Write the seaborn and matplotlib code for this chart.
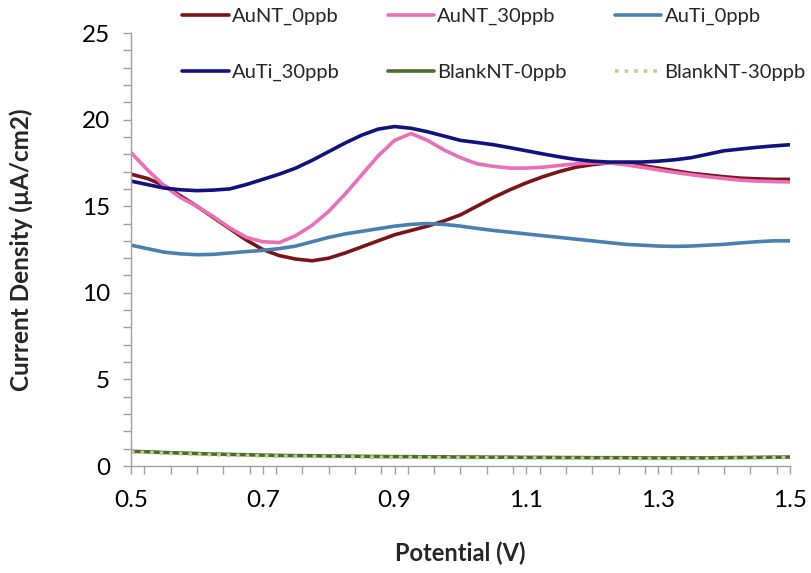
import numpy as np
import pandas as pd
import matplotlib
matplotlib.use("Agg")
import matplotlib.pyplot as plt
import seaborn as sns
from matplotlib.ticker import MultipleLocator

potential = [0.500, 0.525, 0.550, 0.575, 0.600, 0.625, 0.650, 0.675, 0.700, 0.725,
             0.750, 0.775, 0.800, 0.825, 0.850, 0.875, 0.900, 0.925, 0.950, 0.975,
             1.000, 1.025, 1.050, 1.075, 1.100, 1.125, 1.150, 1.175, 1.200, 1.225,
             1.250, 1.275, 1.300, 1.325, 1.350, 1.375, 1.400, 1.425, 1.450, 1.475,
             1.500]

aunt_0 = [16.85, 16.6, 16.2, 15.6, 15.0, 14.35, 13.7, 13.05, 12.5, 12.15,
          11.95, 11.85, 12.0, 12.3, 12.65, 13.0, 13.35, 13.6, 13.85, 14.15,
          14.5, 15.0, 15.5, 15.95, 16.35, 16.7, 17.0, 17.25, 17.4, 17.5,
          17.45, 17.35, 17.2, 17.05, 16.9, 16.8, 16.7, 16.62, 16.58, 16.55,
          16.55]
aunt_30 = [18.1, 17.1, 16.2, 15.5, 15.0, 14.4, 13.75, 13.2, 12.95, 12.9,
           13.3, 13.9, 14.7, 15.7, 16.8, 17.9, 18.8, 19.2, 18.8, 18.25,
           17.8, 17.45, 17.3, 17.2, 17.2, 17.25, 17.35, 17.45, 17.5, 17.5,
           17.4, 17.25, 17.1, 16.95, 16.82, 16.7, 16.6, 16.5, 16.45, 16.42,
           16.4]
auti_0 = [12.75, 12.55, 12.35, 12.25, 12.2, 12.22, 12.3, 12.38, 12.45, 12.55,
          12.7, 12.95, 13.2, 13.4, 13.55, 13.7, 13.85, 13.95, 14.0, 13.95,
          13.85, 13.72, 13.6, 13.5, 13.4, 13.3, 13.2, 13.1, 13.0, 12.9,
          12.8, 12.75, 12.7, 12.68, 12.7, 12.75, 12.8, 12.88, 12.95, 13.0,
          13.0]
auti_30 = [16.45, 16.25, 16.05, 15.95, 15.9, 15.93, 16.0, 16.25, 16.55, 16.85,
           17.2, 17.65, 18.15, 18.65, 19.1, 19.45, 19.6, 19.5, 19.3, 19.05,
           18.8, 18.68, 18.55, 18.38, 18.2, 18.02, 17.85, 17.7, 17.6, 17.55,
           17.55, 17.55, 17.6, 17.68, 17.8, 18.0, 18.2, 18.3, 18.4, 18.48,
           18.55]
blank_0 = [0.85, 0.82, 0.78, 0.75, 0.72, 0.69, 0.67, 0.65, 0.63, 0.61,
           0.60, 0.59, 0.58, 0.57, 0.56, 0.55, 0.54, 0.54, 0.53, 0.53,
           0.52, 0.52, 0.51, 0.51, 0.50, 0.50, 0.49, 0.49, 0.48, 0.48,
           0.48, 0.47, 0.47, 0.47, 0.47, 0.47, 0.48, 0.49, 0.50, 0.51,
           0.52]
blank_30 = [0.81, 0.78, 0.74, 0.71, 0.68, 0.65, 0.63, 0.61, 0.59, 0.57,
            0.56, 0.55, 0.54, 0.53, 0.52, 0.51, 0.50, 0.50, 0.49, 0.49,
            0.48, 0.48, 0.47, 0.47, 0.46, 0.46, 0.45, 0.45, 0.44, 0.44,
            0.44, 0.43, 0.43, 0.43, 0.43, 0.43, 0.44, 0.45, 0.46, 0.47,
            0.48]

series_names = ["AuNT_0ppb", "AuNT_30ppb", "AuTi_0ppb",
                "AuTi_30ppb", "BlankNT-0ppb", "BlankNT-30ppb"]
series_values = [aunt_0, aunt_30, auti_0, auti_30, blank_0, blank_30]
colors = ["#7a1418", "#ea6fb6", "#4a80b0", "#12127e", "#4f6a2c", "#b5d38e"]
styles = ["-", "-", "-", "-", "-", ":"]

sns.set_theme(style="white")
plt.rcParams["font.family"] = ["Lato", "DejaVu Sans"]

fig = plt.figure(figsize=(8.11, 5.73), dpi=100)
ax = fig.add_axes([0.1615, 0.1867, 0.974 - 0.1615, 0.9424 - 0.1867])

handles = []
for name, vals, col, ls in zip(series_names, series_values, colors, styles):
    df = pd.DataFrame({"Potential": potential, "Current": vals})
    sns.lineplot(data=df, x="Potential", y="Current", ax=ax, color=col,
                 linewidth=2.6, linestyle=ls, label=name, legend=False)
    handles.append(ax.lines[-1])

ax.set_xlim(0.5, 1.5)
ax.set_ylim(0, 25)
ax.set_xticks([0.5, 0.7, 0.9, 1.1, 1.3, 1.5])
ax.set_xticklabels(["0.5", "0.7", "0.9", "1.1", "1.3", "1.5"])
ax.xaxis.set_minor_locator(MultipleLocator(0.04))
ax.set_yticks([0, 5, 10, 15, 20, 25])
ax.yaxis.set_minor_locator(MultipleLocator(1))

for s in ["top", "right"]:
    ax.spines[s].set_visible(False)
for s in ["left", "bottom"]:
    ax.spines[s].set_color("#a0a0a0")
    ax.spines[s].set_linewidth(1.0)

ax.tick_params(axis="both", which="both", direction="out", colors="#a0a0a0",
               labelcolor="black", labelsize=17.5)
ax.tick_params(axis="both", which="major", length=6, width=1, bottom=True, left=True)
ax.tick_params(axis="both", which="minor", length=6, width=1, bottom=True, left=True)
ax.tick_params(axis="x", pad=11)
ax.tick_params(axis="y", pad=9)

ax.set_xlabel("Potential (V)", fontsize=17, fontweight="bold", labelpad=22)
ax.set_ylabel("Current Density (µA/cm2)", fontsize=17.5, fontweight="bold", labelpad=35)

order = [0, 3, 1, 4, 2, 5]
leg = fig.legend([handles[i] for i in order], [series_names[i] for i in order],
                 ncol=3, loc="upper left", bbox_to_anchor=(0.21, 1.008),
                 frameon=False, fontsize=14.5, handlelength=2.3, handletextpad=0.15,
                 labelspacing=1.95, columnspacing=2.4, borderaxespad=0.2)

fig.savefig("out.png", dpi=100)
